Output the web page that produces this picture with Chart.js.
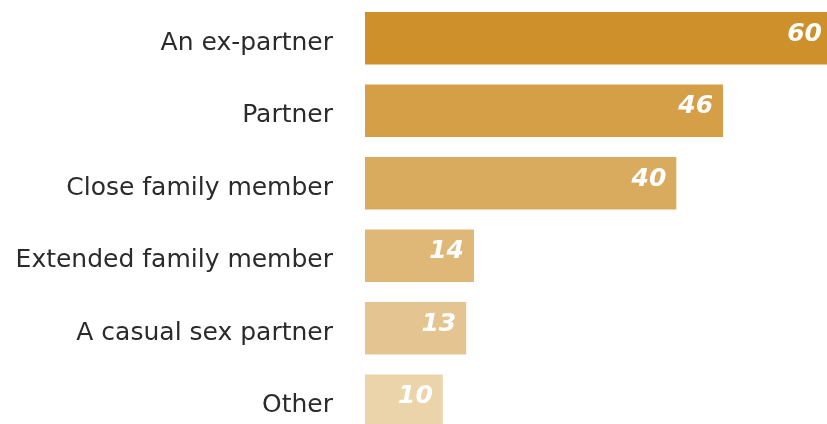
<!DOCTYPE html>
<html>
<head>
<meta charset="utf-8">
<script src="https://cdn.jsdelivr.net/npm/chart.js@4/dist/chart.umd.min.js"></script>
<style>
  html, body { margin: 0; padding: 0; overflow: hidden; background: #fff; }
  #wrap { width: 832px; height: 437px; position: relative; }
</style>
</head>
<body>
<div id="wrap"><canvas id="grafico"></canvas></div>
<script>
const categorias = ['An ex-partner', 'Partner', 'Close family member', 'Extended family member', 'A casual sex partner', 'Other'];
const valores = [60, 46, 40, 14, 13, 10];
const cores = ['#CE902A', '#D49F46', '#D9AB5F', '#DFB878', '#E4C592', '#EBD4A9'];

// escreve o valor dentro da ponta da barra
const rotulos = {
    id: 'rotulos',
    afterDatasetsDraw(chart) {
        const ctx = chart.ctx;
        const meta = chart.getDatasetMeta(0);
        ctx.save();
        ctx.fillStyle = '#ffffff';
        ctx.font = 'italic bold 25px "DejaVu Sans"';
        ctx.textAlign = 'right';
        ctx.textBaseline = 'alphabetic';
        meta.data.forEach((barra, i) => {
            ctx.fillText(valores[i], barra.x - 10, barra.y + 2.5);
        });
        ctx.restore();
    }
};

const ctx = document.getElementById('grafico').getContext('2d');
const grafico = new Chart(ctx, {
    type: 'bar',
    data: {
        labels: categorias,
        datasets: [{
            data: valores,
            backgroundColor: cores,
            borderWidth: 0,
            categoryPercentage: 1,
            barPercentage: 0.727
        }]
    },
    options: {
        indexAxis: 'y',
        responsive: true,
        maintainAspectRatio: false,
        animation: false,
        layout: { padding: { top: 2, right: 0, bottom: 0, left: 0 } },
        plugins: {
            legend: { display: false },
            tooltip: { enabled: false }
        },
        scales: {
            x: {
                display: false,
                min: 0,
                max: 60
            },
            y: {
                grid: { display: false, drawTicks: false },
                border: { display: false },
                ticks: {
                    padding: 32,
                    labelOffset: 5,
                    color: '#2b2b2b',
                    font: { family: '"DejaVu Sans"', size: 25 }
                },
                afterFit: (scale) => {
                    scale.width = 365;
                    scale.paddingTop = 0;
                    scale.paddingBottom = 0;
                }
            }
        }
    },
    plugins: [rotulos]
});
</script>
</body>
</html>
